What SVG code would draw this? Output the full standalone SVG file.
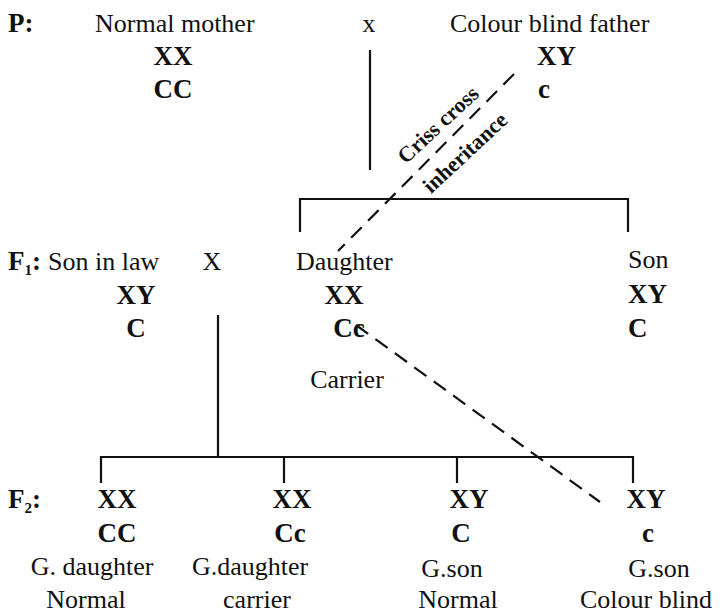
<svg xmlns="http://www.w3.org/2000/svg" width="720" height="614" viewBox="0 0 720 614">
<style>
text{font-family:"Liberation Serif","Times New Roman",serif;fill:#111;font-size:26px}
.b{font-weight:bold;font-size:27px}
.m{text-anchor:middle}
.line{stroke:#111;stroke-width:2.2;fill:none}
.dash{stroke:#111;stroke-width:2.2;fill:none;stroke-dasharray:15 9}
.rot{font-size:22px;font-weight:bold}
</style>
<rect width="720" height="614" fill="#fff"/>
<g id="connectors">
<line class="line" x1="370" y1="50" x2="370" y2="170"/>
<polyline class="line" points="300,232 300,199 628,199 628,232"/>
<line class="line" x1="218" y1="315" x2="218" y2="457"/>
<polyline class="line" points="101,483 101,457 633,457 633,483"/>
<line class="line" x1="284" y1="457" x2="284" y2="483"/>
<line class="line" x1="457" y1="457" x2="457" y2="483"/>
<line class="dash" x1="514" y1="74" x2="338" y2="251"/>
<line class="dash" x1="356" y1="325" x2="600" y2="502"/>
</g>
<g id="labels-generation">
<text class="b" x="8" y="32">P:</text>
<text class="b" x="8" y="270">F<tspan font-size="15" dy="5">1</tspan><tspan dy="-5">:</tspan></text>
<text class="b" x="8" y="508">F<tspan font-size="15" dy="5">2</tspan><tspan dy="-5">:</tspan></text>
</g>
<g id="mother">
<text x="95" y="32">Normal mother</text>
<text class="b m" x="173" y="65">XX</text>
<text class="b m" x="173" y="98">CC</text>
</g>
<g id="cross-p"><text class="m" x="369" y="32">x</text></g>
<g id="father">
<text x="450" y="32">Colour blind father</text>
<text class="b" x="537" y="65">XY</text>
<text class="b" x="538" y="98">c</text>
</g>
<g id="criss-cross-label">
<text class="rot m" transform="translate(443,130) rotate(-43)">Criss cross</text>
<text class="rot m" transform="translate(470,158) rotate(-43)">inheritance</text>
</g>
<g id="son-in-law">
<text x="48" y="270">Son in law</text>
<text class="b m" x="136" y="304">XY</text>
<text class="b m" x="136" y="337">C</text>
</g>
<g id="cross-f1"><text class="m" x="212" y="270">X</text></g>
<g id="daughter">
<text x="296" y="270">Daughter</text>
<text class="b m" x="344" y="304">XX</text>
<text class="b m" x="349" y="337">Cc</text>
<text class="m" x="347" y="388">Carrier</text>
</g>
<g id="son">
<text x="628" y="268">Son</text>
<text class="b" x="628" y="303">XY</text>
<text class="b" x="628" y="337">C</text>
</g>
<g id="gdaughter1">
<text class="b m" x="117" y="508">XX</text>
<text class="b m" x="117" y="542">CC</text>
<text class="m" x="92" y="575">G. daughter</text>
<text class="m" x="86" y="608">Normal</text>
</g>
<g id="gdaughter2">
<text class="b m" x="292" y="508">XX</text>
<text class="b m" x="290" y="542">Cc</text>
<text class="m" x="250" y="575">G.daughter</text>
<text class="m" x="257" y="608">carrier</text>
</g>
<g id="gson1">
<text class="b m" x="469" y="508">XY</text>
<text class="b m" x="461" y="542">C</text>
<text class="m" x="452" y="577">G.son</text>
<text class="m" x="458" y="608">Normal</text>
</g>
<g id="gson2">
<text class="b m" x="646" y="508">XY</text>
<text class="b m" x="648" y="542">c</text>
<text class="m" x="659" y="577">G.son</text>
<text class="m" x="646" y="608">Colour blind</text>
</g>
</svg>
